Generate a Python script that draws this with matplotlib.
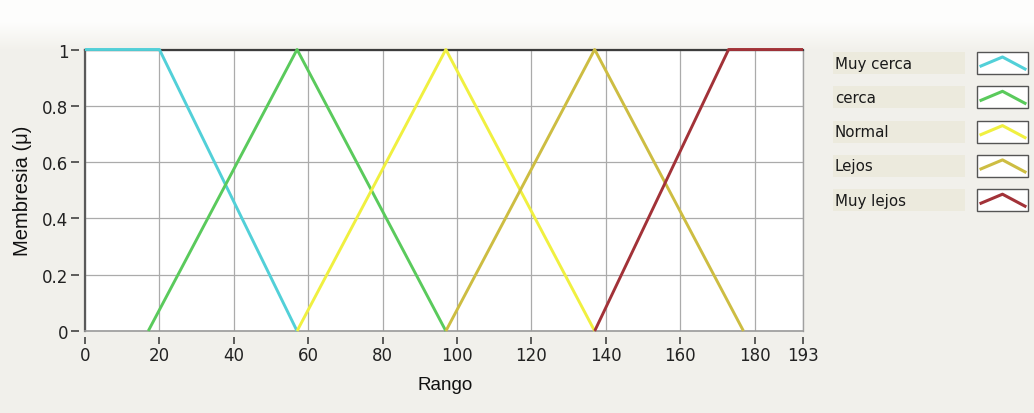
import numpy as np
import matplotlib
matplotlib.use("Agg")
import matplotlib.pyplot as plt
from matplotlib.patches import Rectangle
from matplotlib.lines import Line2D

# Fuzzy membership functions for the distance variable
labels = ["Muy cerca", "cerca", "Normal", "Lejos", "Muy lejos"]
muy_cerca_x = [0, 20, 57]
muy_cerca_y = [1, 1, 0]
cerca_x = [17, 57, 97]
cerca_y = [0, 1, 0]
normal_x = [57, 97, 137]
normal_y = [0, 1, 0]
lejos_x = [97, 137, 177]
lejos_y = [0, 1, 0]
muy_lejos_x = [137, 173, 193]
muy_lejos_y = [0, 1, 1]

x_ticks = [0, 20, 40, 60, 80, 100, 120, 140, 160, 180, 193]
y_ticks = [0, 0.2, 0.4, 0.6, 0.8, 1]
y_tick_labels = ["0", "0.2", "0.4", "0.6", "0.8", "1"]

colors = ["#52D0D8", "#5ACA5C", "#F0F040", "#CDBD42", "#A23238"]
series = [(muy_cerca_x, muy_cerca_y), (cerca_x, cerca_y), (normal_x, normal_y),
          (lejos_x, lejos_y), (muy_lejos_x, muy_lejos_y)]

W, H = 1034, 414
fig = plt.figure(figsize=(W / 100, H / 100), dpi=100)
fig.patch.set_facecolor("#F1F0EB")


def fx(px):
    return px / W


def fy(py):
    return 1 - py / H


# Soft light band along the top of the panel
bg = fig.add_axes([0, 0, 1, 1], zorder=-10)
grad = np.ones((H, 1, 3))
base = np.array(matplotlib.colors.to_rgb("#F1F0EB"))
t = np.clip((np.arange(H) - 22) / 30.0, 0, 1)[:, None]
grad[:, 0, :] = (1 - t) * np.array([0.995, 0.995, 0.99]) + t * base
bg.imshow(grad, aspect="auto", extent=[0, 1, 0, 1], origin="upper")
bg.set_axis_off()

# Plot area
left, right, top, bottom = 85, 803, 50.5, 332
ax = fig.add_axes([fx(left), fy(bottom), fx(right - left), (bottom - top) / H])
ax.set_facecolor("white")
ax.set_xlim(0, 193)
ax.set_ylim(0, 1)

for (xs, ys), c in zip(series, colors):
    ax.plot(xs, ys, color=c, lw=2.1, solid_capstyle="butt", clip_on=False, zorder=5)

ax.set_xticks(x_ticks)
ax.set_xticklabels([str(v) for v in x_ticks])
ax.set_yticks(y_ticks)
ax.set_yticklabels(y_tick_labels)
ax.grid(True, color="#ABABAB", lw=0.9)
ax.set_axisbelow(True)

# Ticks sit slightly detached from the frame
ax.spines["bottom"].set_position(("outward", 4))
ax.spines["left"].set_position(("outward", 4))
ax.spines["bottom"].set_visible(False)
ax.spines["left"].set_visible(False)
ax.spines["top"].set_color("#3C3C3C")
ax.spines["top"].set_linewidth(1.6)
ax.spines["right"].set_color("#A0A0A0")
ax.spines["right"].set_linewidth(1.0)
ax.axvline(0, color="#5A5A5A", lw=1.6, zorder=4, clip_on=False)
ax.axhline(0, color="#9A9A9A", lw=1.2, zorder=4, clip_on=False)

ax.tick_params(axis="x", direction="out", length=5, width=1.1, color="#333333",
               pad=2, labelsize=12, labelcolor="#222222")
ax.tick_params(axis="y", direction="out", length=6, width=1.1, color="#333333",
               pad=2, labelsize=12, labelcolor="#222222")

ax.set_xlabel("Rango", fontsize=13.5, family="Liberation Sans", color="#111111")
ax.set_ylabel("Membresia (μ)", fontsize=14.5, family="Liberation Sans", color="#111111")
ax.xaxis.set_label_coords((445 - left) / (right - left), -(377 - bottom) / (bottom - top))
ax.yaxis.set_label_coords(-(left - 32) / (right - left), 0.5)

# Legend: label plates and icon boxes with chevrons
row0, row_step = 53, 34.3
box_h = 22
for i, (name, c) in enumerate(zip(labels, colors)):
    ytop = row0 + i * row_step
    fig.add_artist(Rectangle((fx(833), fy(ytop + box_h)), fx(965 - 833), box_h / H,
                             transform=fig.transFigure, facecolor="#ECEADD",
                             edgecolor="none"))
    fig.text(fx(835), fy(ytop + box_h / 2), name, fontsize=10.8, family="DejaVu Sans",
             color="#1A1A1A", va="center", ha="left")
    bx0, bx1 = 977, 1028
    fig.add_artist(Rectangle((fx(bx0), fy(ytop + box_h)), fx(bx1 - bx0), box_h / H,
                             transform=fig.transFigure, facecolor="white",
                             edgecolor="#555555", lw=1.0))
    fig.add_artist(Line2D([fx(bx0 + 4), fx((bx0 + bx1) / 2), fx(bx1 - 3)],
                          [fy(ytop + 14), fy(ytop + 5), fy(ytop + 17)],
                          transform=fig.transFigure, color=c, lw=2.2))

fig.savefig("out.png", dpi=100, facecolor=fig.get_facecolor())
